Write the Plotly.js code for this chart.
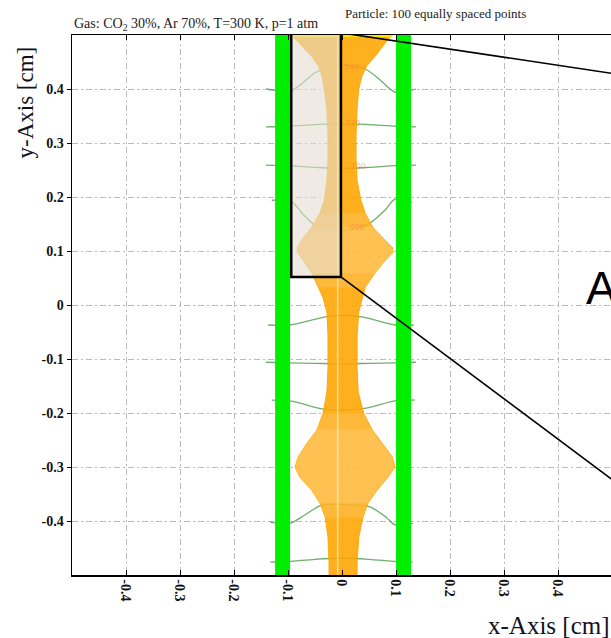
<!DOCTYPE html>
<html>
<head>
<meta charset="utf-8">
<script src="https://cdn.plot.ly/plotly-3.0.1.min.js"></script>
<style>
  html, body { margin: 0; padding: 0; background: #ffffff; overflow: hidden; }
  #chart { width: 614px; height: 638px; }
</style>
</head>
<body>
<div id="chart"></div>
<script>
// ---- tick labels ----
const xTicks = [-0.4, -0.3, -0.2, -0.1, 0, 0.1, 0.2, 0.3, 0.4];
const xTickText = ["-0.4", "-0.3", "-0.2", "-0.1", "0", "0.1", "0.2", "0.3", "0.4"];
const yTicks = [-0.4, -0.3, -0.2, -0.1, 0, 0.1, 0.2, 0.3, 0.4];
const yTickText = ["-0.4", "-0.3", "-0.2", "-0.1", "0", "0.1", "0.2", "0.3", "0.4"];

// ---- electrode strips (x positions, cm) ----
const stripX = [-0.110, 0.114];

// ---- drift-line envelope (cm) ----
const envY     = [0.5, 0.48, 0.46, 0.443, 0.424, 0.40, 0.363, 0.313, 0.269, 0.231, 0.194, 0.17, 0.144, 0.124, 0.106, 0.096, 0.078, 0.059, 0.033, 0.013, -0.013, -0.056, -0.117, -0.161, -0.2, -0.231, -0.256, -0.281, -0.30, -0.319, -0.343, -0.367, -0.393, -0.43, -0.478, -0.5];
const envLeft  = [-0.093, -0.074, -0.056, -0.044, -0.037, -0.033, -0.028, -0.026, -0.026, -0.028, -0.033, -0.041, -0.056, -0.072, -0.083, -0.081, -0.069, -0.056, -0.044, -0.035, -0.028, -0.026, -0.026, -0.028, -0.035, -0.046, -0.065, -0.081, -0.087, -0.078, -0.056, -0.041, -0.031, -0.026, -0.024, -0.024];
const envRight = [0.093, 0.076, 0.061, 0.046, 0.037, 0.031, 0.028, 0.026, 0.026, 0.028, 0.035, 0.043, 0.057, 0.076, 0.094, 0.093, 0.076, 0.061, 0.043, 0.037, 0.031, 0.028, 0.028, 0.030, 0.040, 0.056, 0.074, 0.093, 0.098, 0.085, 0.065, 0.048, 0.039, 0.031, 0.028, 0.028];
// y-ranges of the lighter (spread-out) bulges, outer and inner shading
const bulgeRanges = [[0.033, 0.17], [0.059, 0.144], [-0.393, -0.2], [-0.367, -0.231]];
// bright streak inside the bundle
const streakX = [-0.008, -0.008];
const streakY = [0.5, -0.5];

// ---- particle track (yellow) ----
const trackX = [-0.095, 0.093];
const trackY = [0.5, 0.5];

// ---- equipotential contours (cm) ----
const contours = [
  { x: [-0.141, -0.096, -0.078, -0.050, -0.013, 0.015, 0.043, 0.067, 0.089, 0.102, 0.137],
    y: [0.400, 0.396, 0.407, 0.430, 0.443, 0.443, 0.437, 0.420, 0.400, 0.393, 0.400] },
  { x: [-0.141, -0.10, -0.05, 0, 0.05, 0.10, 0.137],
    y: [0.330, 0.331, 0.334, 0.336, 0.334, 0.331, 0.330] },
  { x: [-0.141, -0.10, -0.05, 0, 0.05, 0.10, 0.137],
    y: [0.259, 0.258, 0.255, 0.253, 0.255, 0.258, 0.259] },
  { x: [-0.130, -0.093, -0.074, -0.050, -0.013, 0.015, 0.052, 0.080, 0.098, 0.130],
    y: [0.194, 0.191, 0.170, 0.148, 0.139, 0.139, 0.152, 0.176, 0.196, 0.190] },
  { x: [-0.137, -0.096, -0.031, 0, 0.037, 0.098, 0.133],
    y: [-0.037, -0.037, -0.022, -0.019, -0.022, -0.037, -0.037] },
  { x: [-0.141, -0.10, -0.05, 0, 0.05, 0.10, 0.137],
    y: [-0.106, -0.107, -0.108, -0.109, -0.108, -0.107, -0.106] },
  { x: [-0.130, -0.093, -0.040, 0, 0.045, 0.100, 0.135],
    y: [-0.176, -0.178, -0.192, -0.195, -0.191, -0.177, -0.176] },
  { x: [-0.133, -0.096, -0.069, -0.041, -0.017, 0.015, 0.052, 0.083, 0.098, 0.131],
    y: [-0.402, -0.404, -0.389, -0.372, -0.369, -0.370, -0.374, -0.394, -0.407, -0.404] },
  { x: [-0.133, -0.10, -0.05, 0, 0.05, 0.10, 0.131],
    y: [-0.476, -0.475, -0.471, -0.469, -0.471, -0.475, -0.476] }
];
const contourLabelText = ["740", "720", "700", "690"];
const contourLabelX = [0.017, 0.020, 0.030, 0.028];
const contourLabelY = [0.439, 0.335, 0.256, 0.143];

// ---- zoom box and connectors (cm) ----
const boxX = [-0.094, -0.002, -0.002, -0.094, -0.094];
const boxY = [0.504, 0.504, 0.052, 0.052, 0.504];
const connTopX = [-0.002, 0.5];
const connTopY = [0.504, 0.429];
const connBotX = [-0.002, 0.5];
const connBotY = [0.052, -0.323];

// ---------------------------------------------
const traces = [];

contours.forEach(c => {
  traces.push({ type: 'scatter', mode: 'lines', x: c.x, y: c.y,
    line: { color: 'rgba(60,150,60,0.75)', width: 1.3, shape: 'spline', smoothing: 0.8 },
    hoverinfo: 'skip' });
});

stripX.forEach(sx => {
  traces.push({ type: 'scatter', mode: 'lines', x: [sx, sx], y: [-0.5, 0.5],
    line: { color: '#00ee00', width: 15 }, hoverinfo: 'skip' });
});

// envelope polygon
const polyX = envLeft.concat(envRight.slice().reverse());
const polyY = envY.concat(envY.slice().reverse());
traces.push({ type: 'scatter', mode: 'lines', x: polyX, y: polyY, fill: 'toself',
  fillcolor: 'rgba(255,165,0,0.88)', line: { color: 'rgba(255,165,0,0.9)', width: 1 },
  hoverinfo: 'skip' });

// lighter bulges (graded)
bulgeRanges.forEach(r => {
  const idx = envY.map((v, i) => i).filter(i => envY[i] >= r[0] && envY[i] <= r[1]);
  const bx = idx.map(i => envLeft[i]).concat(idx.slice().reverse().map(i => envRight[i]));
  const by = idx.map(i => envY[i]).concat(idx.slice().reverse().map(i => envY[i]));
  traces.push({ type: 'scatter', mode: 'lines', x: bx, y: by, fill: 'toself',
    fillcolor: 'rgba(255,255,255,0.12)', line: { width: 0 }, hoverinfo: 'skip' });
});

traces.push({ type: 'scatter', mode: 'lines', x: streakX, y: streakY,
  line: { color: 'rgba(255,255,255,0.55)', width: 1.5 }, hoverinfo: 'skip' });

traces.push({ type: 'scatter', mode: 'lines', x: trackX, y: trackY,
  line: { color: '#ffe600', width: 4 }, hoverinfo: 'skip' });

traces.push({ type: 'scatter', mode: 'text', x: contourLabelX, y: contourLabelY,
  text: contourLabelText, textposition: 'middle center',
  textfont: { family: 'Liberation Sans, Arial, sans-serif', size: 9, color: 'rgba(240,110,80,0.45)' },
  hoverinfo: 'skip' });

traces.push({ type: 'scatter', mode: 'lines', x: boxX, y: boxY, fill: 'toself',
  fillcolor: 'rgba(228,222,210,0.6)', line: { color: '#000000', width: 2.5 }, hoverinfo: 'skip' });

traces.push({ type: 'scatter', mode: 'lines', x: connTopX, y: connTopY,
  line: { color: '#000000', width: 1.6 }, hoverinfo: 'skip' });
traces.push({ type: 'scatter', mode: 'lines', x: connBotX, y: connBotY,
  line: { color: '#000000', width: 1.6 }, hoverinfo: 'skip' });

const tickFont = { family: 'Liberation Serif, Times New Roman, serif', size: 14, color: '#111111', weight: 'bold' };
const gridDash = '6px,3px,2px,3px';
const serif = 'Liberation Serif, Times New Roman, serif';

const layout = {
  width: 614, height: 638,
  margin: { l: 72, r: 2, t: 35, b: 63, pad: 0 },
  paper_bgcolor: '#ffffff', plot_bgcolor: '#ffffff',
  showlegend: false,
  xaxis: {
    range: [-0.5, 0.5], tickvals: xTicks, ticktext: xTickText, tickangle: 90,
    ticks: 'inside', ticklen: 5, tickcolor: '#000', tickwidth: 1,
    showgrid: true, gridcolor: '#bbbbbb', gridwidth: 1, griddash: gridDash,
    zeroline: false, showline: true, linecolor: '#000', linewidth: 1.5, mirror: 'ticks',
    tickfont: tickFont, fixedrange: true
  },
  yaxis: {
    range: [-0.5, 0.5], tickvals: yTicks, ticktext: yTickText,
    ticks: 'outside', ticklen: 4, tickcolor: '#000', tickwidth: 1,
    showgrid: true, gridcolor: '#bbbbbb', gridwidth: 1, griddash: gridDash,
    zeroline: false, showline: true, linecolor: '#000', linewidth: 1.5, mirror: 'ticks',
    tickfont: tickFont, fixedrange: true
  },
  annotations: [
    { text: 'y-Axis [cm]', xref: 'paper', yref: 'paper', x: -0.087, y: 0.875,
      xanchor: 'center', yanchor: 'middle', textangle: -90, showarrow: false,
      font: { family: serif, size: 23, color: '#111122' } },
    { text: 'x-Axis [cm]', xref: 'paper', yref: 'paper', x: 1.0, y: -0.0926,
      xanchor: 'right', yanchor: 'middle', showarrow: false,
      font: { family: serif, size: 25, color: '#111122' } },
    { text: 'Gas: CO<sub>2</sub> 30%, Ar 70%, T=300 K, p=1 atm', xref: 'paper', yref: 'paper',
      x: 0.0, y: 1.020, xanchor: 'left', yanchor: 'middle', showarrow: false,
      font: { family: serif, size: 14, color: '#222222' } },
    { text: 'Particle: 100 equally spaced points', xref: 'paper', yref: 'paper',
      x: 0.502, y: 1.0407, xanchor: 'left', yanchor: 'middle', showarrow: false,
      font: { family: serif, size: 13, color: '#222222' } },
    { text: 'A', xref: 'paper', yref: 'paper', x: 0.949, y: 0.531,
      xanchor: 'left', yanchor: 'middle', showarrow: false,
      font: { family: 'Liberation Sans, Arial, sans-serif', size: 46, color: '#000000' } }
  ]
};

Plotly.newPlot('chart', traces, layout, { displayModeBar: false, staticPlot: true });
</script>
</body>
</html>
